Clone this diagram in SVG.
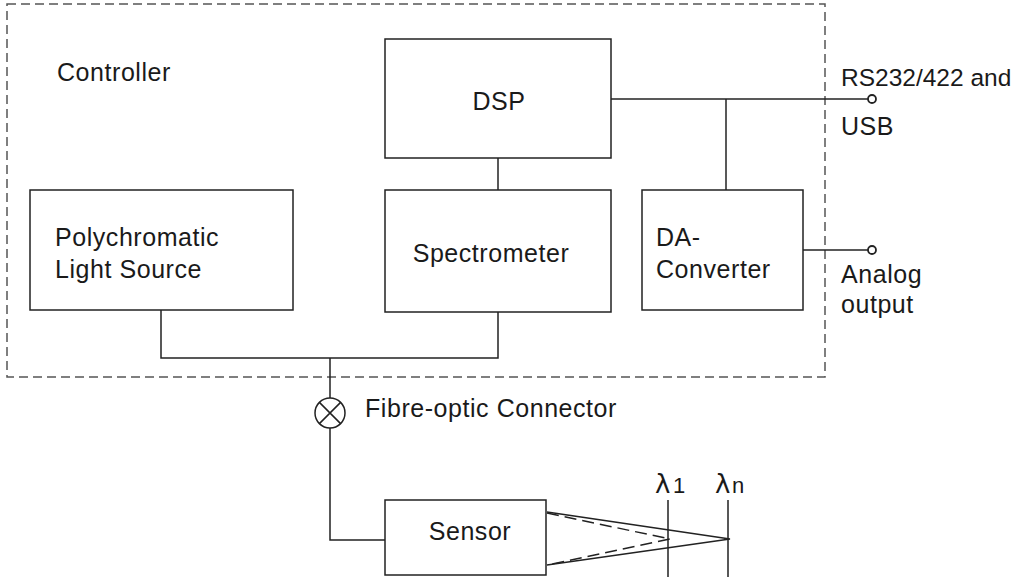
<svg xmlns="http://www.w3.org/2000/svg" width="1018" height="577" viewBox="0 0 1018 577">
<style>
text{font-family:"Liberation Sans",Arial,sans-serif;font-size:25px;letter-spacing:0.55px;fill:#1a1a1a}
.box{fill:#fff;stroke:#222;stroke-width:1.5}
.ln{fill:none;stroke:#222;stroke-width:1.5}
.dash{fill:none;stroke:#555;stroke-width:1.5;stroke-dasharray:9 5}
.term{fill:#fff;stroke:#222;stroke-width:1.8}
.lam{font-family:"DejaVu Sans",sans-serif;font-size:26px;letter-spacing:0}
.sub{font-size:22px;letter-spacing:0}
.rs{font-size:24.5px;letter-spacing:0}
</style>
<rect width="1018" height="577" fill="#fff"/>
<g id="controller">
<rect class="dash" x="7" y="4" width="818" height="373"/>
<text x="57" y="81">Controller</text>
</g>
<g id="connectors">
<path class="ln" d="M498 158V190"/>
<path class="ln" d="M611 99H868"/>
<path class="ln" d="M726 99V190"/>
<path class="ln" d="M803 250H868"/>
<path class="ln" d="M161 310V358H498V312"/>
<path class="ln" d="M330 358V398"/>
<path class="ln" d="M330 428V540H385"/>
<circle class="term" cx="872" cy="99" r="4"/>
<circle class="term" cx="872" cy="250" r="4"/>
</g>
<g id="dsp">
<rect class="box" x="385" y="39" width="226" height="119"/>
<text x="499" y="110" text-anchor="middle">DSP</text>
</g>
<g id="light-source">
<rect class="box" x="30" y="190" width="263" height="120"/>
<text x="55" y="246">Polychromatic</text>
<text x="55" y="278">Light Source</text>
</g>
<g id="spectrometer">
<rect class="box" x="385" y="190" width="226" height="122"/>
<text x="491" y="262" text-anchor="middle">Spectrometer</text>
</g>
<g id="da-converter">
<rect class="box" x="642" y="190" width="161" height="120"/>
<text x="656" y="246">DA-</text>
<text x="656" y="278">Converter</text>
</g>
<g id="rs232-label">
<text class="rs" x="841" y="86">RS232/422 and</text>
<text x="841" y="135">USB</text>
</g>
<g id="analog-label">
<text x="841" y="283">Analog</text>
<text x="841" y="313">output</text>
</g>
<g id="fibre-connector">
<circle cx="330" cy="413" r="15" fill="#fff" stroke="#222" stroke-width="1.5"/>
<path class="ln" d="M319.4 402.4L340.6 423.6M340.6 402.4L319.4 423.6"/>
<text x="365" y="417">Fibre-optic Connector</text>
</g>
<g id="sensor">
<rect class="box" x="385" y="500" width="161" height="75"/>
<text x="470" y="540" text-anchor="middle">Sensor</text>
</g>
<g id="beam">
<path class="ln" d="M547 512L730 539L547 565"/>
<path class="ln" d="M547 513L670 539L547 565" stroke-dasharray="12 6"/>
<path class="ln" d="M668 500V577M728 500V577"/>
<text class="lam" x="655" y="493">λ</text>
<text class="sub" x="673" y="493">1</text>
<text class="lam" x="715" y="493">λ</text>
<text class="sub" x="732" y="493">n</text>
</g>
</svg>
